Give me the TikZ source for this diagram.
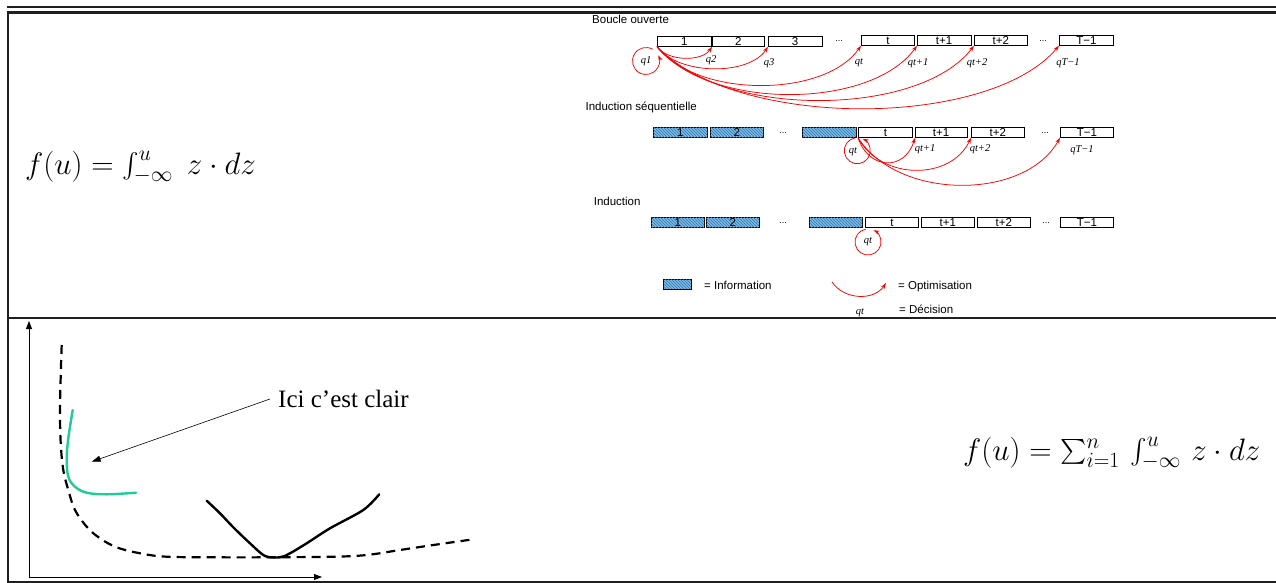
\RequirePackage{fix-cm}
\documentclass[tikz,border=0pt]{standalone}
\usepackage{exscale}
\usepackage{fontspec}
\newfontfamily\sansf{Liberation Sans}
\newfontfamily\timesf{Liberation Serif}
\usetikzlibrary{arrows.meta,patterns,calc}
\definecolor{infoblue}{RGB}{118,190,236}
\definecolor{hatchc}{RGB}{62,110,160}
\definecolor{clairc}{RGB}{32,204,150}
\definecolor{optred}{RGB}{250,0,0}
\newcommand\lblsize{\sansf\fontsize{11.5}{13}\selectfont}
\newcommand\qsize{\timesf\itshape\fontsize{10.5}{12}\selectfont}
\begin{document}
\begin{tikzpicture}[x=1pt,y=-1pt,
 rule/.style={line width=#1, color=black!88},
 periode/.style={draw, line width=0.7pt, anchor=north west, minimum width=#1, minimum height=10pt, text height=8pt, text depth=0pt, inner sep=0pt, font=\lblsize},
 periode/.default=53pt,
 info/.style={periode=#1, fill=infoblue, postaction={pattern=north west lines, pattern color=hatchc}},
 info/.default=53pt,
 dots/.style={anchor=base, inner sep=0pt, font=\sansf\fontsize{9}{10}\selectfont},
 qlab/.style={inner sep=0pt, font=\qsize},
 opt/.style={draw=optred, line width=0.75pt, -{Stealth[length=6pt,width=4pt]}},
 lbl/.style={anchor=base west, inner sep=0pt, font=\lblsize},
 axis/.style={line width=0.8pt, -{Triangle[length=8pt,width=6pt]}},
]
\useasboundingbox (0,0) rectangle (1276,583);
% table frame
\draw[rule=2.6pt] (6.7,7) -- (1280,7);
\draw[rule=2.6pt] (6.7,12.3) -- (1280,12.3);
\draw[rule=2.3pt] (7.8,11) -- (7.8,590);
\draw[rule=2pt] (6.7,318.3) -- (1280,318.3);
\draw[rule=2pt] (6.7,582) -- (1280,582);

% formulas
\node[anchor=base west, inner sep=0pt, font=\fontsize{31}{31}\selectfont] (f1) at (25,174) {$f(u) = \int_{-\infty}^{u}\; z\cdot dz$};
\node[anchor=base west, inner sep=0pt, font=\fontsize{31}{31}\selectfont] (f2) at (963,460) {$f(u) = \sum_{i=1}^{n}\, \int_{-\infty}^{u}\, z\cdot dz$};

% Row 1 : Boucle ouverte
\node[lbl] (t1) at (592,24) {Boucle ouverte};
\node[periode=54pt] (r1a) at (657,36) {1};
\node[periode=52pt] (r1b) at (712,36) {2};
\node[periode=53.5pt] (r1c) at (768,36) {3};
\node[dots] (r1d) at (839,42) {...};
\node[periode=53pt] (r1t) at (861,35) {t};
\node[periode=53.5pt] (r1u) at (917,35) {t+1};
\node[periode=53pt] (r1v) at (974,35) {t+2};
\node[dots] (r1e) at (1043,42) {...};
\node[periode=54pt] (r1w) at (1059,35) {T−1};
\node[qlab] (q11) at (646,61) {q1};
\node[qlab] (q12) at (711,60) {q2};
\node[qlab] (q13) at (769,63) {q3};
\node[qlab] (q1t) at (859,63) {qt};
\node[qlab] (q1u) at (918,63) {qt+1};
\node[qlab] (q1v) at (977,63) {qt+2};
\node[qlab] (q1w) at (1068,63) {qT−1};
\draw[opt] (r1a.south west) .. controls +(11,15) and +(-10,15) .. (r1b.south west);
\draw[opt] (r1a.south west) .. controls +(22,29) and +(-19,29) .. (r1c.south west);
\draw[opt] (r1a.south west) .. controls +(41,52) and +(-36,52) .. (r1t.south west);
\draw[opt] (r1a.south west) .. controls +(52,64) and +(-46,64) .. (r1u.south west);
\draw[opt] (r1a.south west) .. controls +(63,72) and +(-55,72) .. (r1v.south west);
\draw[opt] (r1a.south west) .. controls +(80,83) and +(-70,83) .. (r1w.south west);
\draw[opt] (q11.center) ++(-60:13.5) arc[start angle=-60, end angle=-385, radius=13.5];

% Row 2 : Induction sequentielle
\node[lbl] (t2) at (585.4,111) {Induction séquentielle};
\node[info=54pt] (r2a) at (653,127) {1};
\node[info=53pt] (r2b) at (710,127) {2};
\node[dots] (r2d) at (783,133) {...};
\node[info=54pt] (r2c) at (802,127) {};
\node[periode=54pt] (r2t) at (858,127) {t};
\node[periode=51.5pt] (r2u) at (915,127) {t+1};
\node[periode=53pt] (r2v) at (971,127) {t+2};
\node[dots] (r2e) at (1045,133) {...};
\node[periode=53pt] (r2w) at (1060,127) {T−1};
\node[qlab] (q2t) at (853,152) {qt};
\node[qlab] (q2u) at (925,149) {qt+1};
\node[qlab] (q2v) at (980,149) {qt+2};
\node[qlab] (q2w) at (1082,150) {qT−1};
\draw[opt] (r2t.south west) .. controls +(11,33) and +(-10,33) .. (r2u.south west);
\draw[opt] (r2t.south west) .. controls +(23,43) and +(-20,43) .. (r2v.south west);
\draw[opt] (r2t.south west) .. controls +(40,63) and +(-35,63) .. (r2w.south west);
\draw[opt] ($(q2t.center)+(4.3,-1.3)$) ++(-100:13) arc[start angle=-100, end angle=-425, radius=13];

% Row 3 : Induction
\node[lbl] (t3) at (593.6,205.8) {Induction};
\node[info=53pt] (r3a) at (651,217) {1};
\node[info=53pt] (r3b) at (706,217) {2};
\node[dots] (r3d) at (783,223) {...};
\node[info=53pt] (r3c) at (809,217) {};
\node[periode=53pt] (r3t) at (865,217) {t};
\node[periode=53pt] (r3u) at (921,217) {t+1};
\node[periode=53pt] (r3v) at (977,217) {t+2};
\node[dots] (r3e) at (1046,223) {...};
\node[periode=53pt] (r3w) at (1060,217) {T−1};
\node[qlab] (q3t) at (868,242) {qt};
\draw[opt] (q3t.center) ++(-100:13) arc[start angle=-100, end angle=-425, radius=13];

% Legend
\node[info=27.5pt, minimum height=9.5pt] (leg) at (663.3,279) {};
\node[lbl] (legi) at (704,289) {= Information};
\coordinate (la) at (832,282);
\coordinate (lb) at (886,283);
\draw[opt] (la) .. controls +(12,18) and +(-12,18) .. (lb);
\node[lbl] (lego) at (898,289) {= Optimisation};
\node[qlab] (legq) at (860,312.7) {qt};
\node[lbl] (legd) at (899,313) {= Décision};

% Bottom graph
\coordinate (O) at (29,577);
\coordinate (Ytop) at (29,321);
\coordinate (Xend) at (322,577);
\draw[axis] (O) -- (Ytop);
\draw[axis] (O) -- (Xend);
\draw[line width=2.2pt, dash pattern=on 9pt off 6pt] plot[smooth, tension=0.6] coordinates {
 (61.7,345) (60.7,376.7) (60,410) (60.7,443) (63.3,470) (68.3,490) (75,510) (86.7,526.7)
 (100,538.3) (116.7,547.3) (140,553.3) (166.7,556.7) (216.7,557.3) (266.7,557.3)
 (333.3,556.7) (366.7,555) (400,550) (433.3,545) (473.3,539.3)};
\draw[clairc, line width=2.4pt, line cap=round] plot[smooth, tension=0.6] coordinates {
 (72.7,410) (70,426.7) (67.7,443.3) (66.7,460) (68.3,476.7) (75,486.7) (86.7,492.7) (106.7,494.3) (136,492.7)};
\draw[line width=2.4pt, line cap=round, line join=round] plot[smooth, tension=0.5] coordinates {
 (206.7,500.7) (220,513.3) (233.3,527.3) (250,543.3) (265,556) (280,557.3) (290,553.3)
 (306.7,543.3) (330,528.3) (363.3,510) (379.3,494.3)};
\node[anchor=west, inner ysep=0pt, inner xsep=8pt, font=\timesf\fontsize{25}{28}\selectfont] (ici) at (270,399) {Ici c’est clair};
\coordinate (tipc) at (91.7,461.7);
\draw[line width=0.6pt, -{Triangle[length=9pt,width=6pt]}] (ici.west) -- (tipc);
\end{tikzpicture}
\end{document}
